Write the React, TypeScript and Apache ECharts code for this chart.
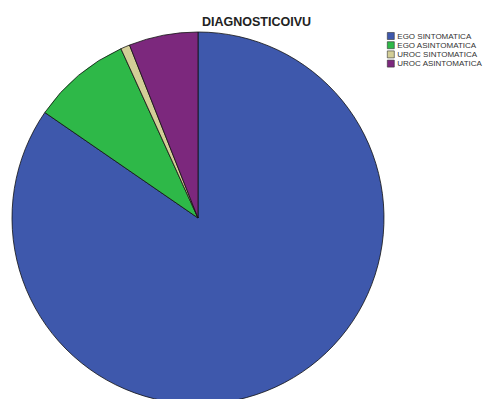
import React, { useEffect, useRef } from "react";
import * as echarts from "echarts";

const categories = ["EGO SINTOMATICA", "EGO ASINTOMATICA", "UROC SINTOMATICA", "UROC ASINTOMATICA"];
const values = [84.6, 8.6, 0.8, 6.0];
const colors = ["#3E58AC", "#2EB848", "#D3CE97", "#7C287D"];

export default function App() {
  const ref = useRef<HTMLDivElement>(null);
  useEffect(() => {
    document.body.style.margin = "0";
    const chart = echarts.init(ref.current!, undefined, { renderer: "svg" });
    chart.setOption({
      animation: false,
      backgroundColor: "#ffffff",
      title: {
        text: "DIAGNOSTICOIVU",
        left: 202,
        top: 15,
        padding: 0,
        textStyle: { fontFamily: "Liberation Sans, Arial", fontSize: 12.5, fontWeight: "bold", color: "#222" },
      },
      legend: {
        orient: "vertical",
        left: 387,
        top: 32,
        padding: 0,
        itemWidth: 7,
        itemHeight: 7,
        itemGap: 1.2,
        icon: "rect",
        data: categories,
        itemStyle: { borderColor: "#333", borderWidth: 0.6 },
        textStyle: { fontFamily: "Liberation Sans, Arial", fontSize: 8, lineHeight: 8, color: "#333", padding: [0, 0, 0, -2] },
      },
      series: [
        {
          type: "pie",
          center: [198, 218],
          radius: 186,
          startAngle: 90,
          clockwise: true,
          label: { show: false },
          labelLine: { show: false },
          emphasis: { disabled: true },
          itemStyle: { borderColor: "#111", borderWidth: 0.8 },
          data: categories.map((name, i) => ({ name, value: values[i], itemStyle: { color: colors[i] } })),
        },
      ],
    });
    return () => chart.dispose();
  }, []);
  return <div ref={ref} style={{ position: "absolute", left: 0, top: 0, width: 486, height: 399 }} />;
}
